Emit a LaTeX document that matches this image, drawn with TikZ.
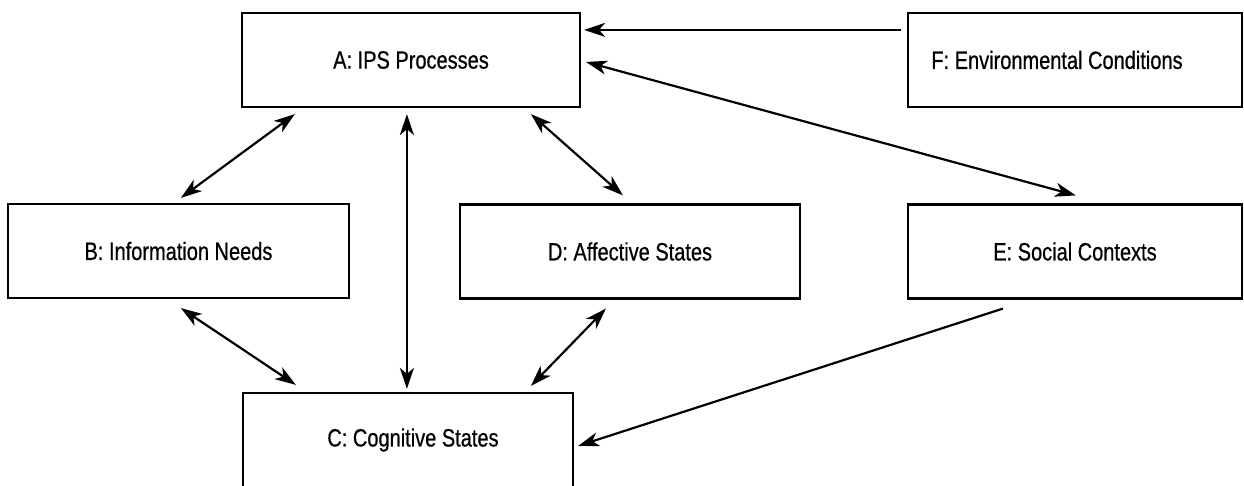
\documentclass[tikz,border=0pt]{standalone}
\usepackage{fontspec}
\setmainfont{Liberation Sans}[FakeStretch=0.8,FakeBold=0.6]
\usetikzlibrary{arrows.meta,calc}
\begin{document}
\begin{tikzpicture}[x=1pt,y=-1pt,
  box/.style={draw,line width=2.2pt,rectangle,minimum height=94pt,inner sep=0pt,
    font=\fontsize{25}{30}\selectfont},
  tip/.tip={Stealth[length=21pt,width=14pt,inset=6pt]},
  conn/.style={line width=2.2pt,-tip},
  biconn/.style={line width=2.2pt,tip-tip}]
\useasboundingbox[fill=white] (0,0) rectangle (1244,486);
\node[box,minimum width=338pt] (A) at (411,60) {A: IPS Processes};
\node[box,minimum width=334pt] (F) at (1075,60) {F: Environmental Conditions\hspace*{36pt}};
\node[box,minimum width=341pt] (B) at (178.5,251) {B: Information Needs};
\node[box,minimum width=340pt] (D) at (630,251.5) {D: Affective States};
\node[box,minimum width=334pt] (E) at (1075,251.5) {E: Social Contexts};
\node[box,minimum width=330pt] (C) at (408,440) {C: Cognitive States\hspace*{-10pt}};
% F -> A
\draw[conn] ($(F.north west)+(-6,18)$) -- ($(A.north east)+(3,18)$);
% A <-> E
\draw[biconn] ($(A.east)+(5,2)$) -- ($(E.north west)+(169,-8)$);
% A <-> B
\draw[biconn] ($(A.south west)+(54,6)$) -- ($(B.north west)+(174,-5)$);
% A <-> C
\draw[biconn] ($(A.south west)+(166,6)$) -- ($(C.north west)+(165,-3)$);
% A <-> D
\draw[biconn] ($(A.south west)+(290,6)$) -- ($(D.north west)+(164,-8)$);
% B <-> C
\draw[biconn] ($(B.south west)+(174,9)$) -- ($(C.north west)+(54,-7)$);
% D <-> C
\draw[biconn] ($(D.south west)+(147,9)$) -- ($(C.north west)+(289,-6)$);
% E -> C
\draw[conn] ($(E.south west)+(96,9)$) -- ($(C.north east)+(4,54)$);
\end{tikzpicture}
\end{document}
